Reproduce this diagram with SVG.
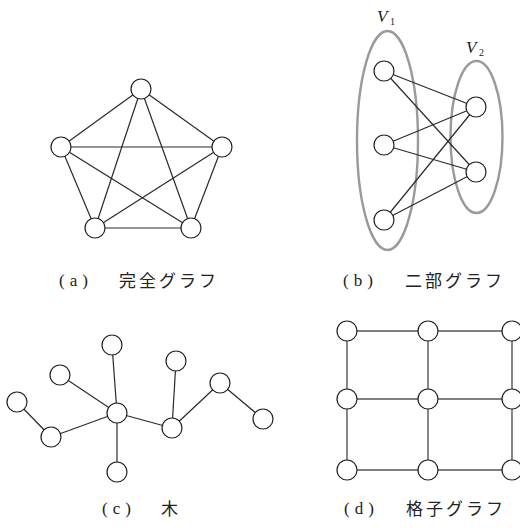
<svg xmlns="http://www.w3.org/2000/svg" width="520" height="528" viewBox="0 0 520 528">
<style>
.e{stroke:#2a2a2a;stroke-width:1.2;fill:none}
.g{stroke:#555;stroke-width:1.4;fill:none}
.set{fill:none;stroke:#9a9a9a;stroke-width:2.4}
.lbl{font-family:"Liberation Serif",serif;font-size:17px;fill:#222;letter-spacing:5px}
.jp{font-family:"Noto Sans CJK JP",sans-serif;font-size:17px;fill:#222;letter-spacing:3px;font-weight:400}
.v{font-family:"Liberation Serif",serif;font-style:italic;font-size:17px;fill:#222}
.sub{font-family:"Liberation Serif",serif;font-size:10px;fill:#222}
</style>
<defs><circle id="nd" r="10" fill="#fff" stroke="#222" stroke-width="1.2"/></defs>

<!-- (a) complete graph -->
<g id="edges-a">
<line class="e" x1="141" y1="89" x2="61" y2="147"/>
<line class="e" x1="141" y1="89" x2="222" y2="147"/>
<line class="e" x1="141" y1="89" x2="95" y2="228"/>
<line class="e" x1="141" y1="89" x2="191" y2="228"/>
<line class="e" x1="61" y1="147" x2="222" y2="147"/>
<line class="e" x1="61" y1="147" x2="95" y2="228"/>
<line class="e" x1="61" y1="147" x2="191" y2="228"/>
<line class="e" x1="222" y1="147" x2="95" y2="228"/>
<line class="e" x1="222" y1="147" x2="191" y2="228"/>
<line class="e" x1="95" y1="228" x2="191" y2="228"/>
</g>
<g id="a1"><use href="#nd" x="141" y="89"/></g>
<g id="a2"><use href="#nd" x="61" y="147"/></g>
<g id="a3"><use href="#nd" x="222" y="147"/></g>
<g id="a4"><use href="#nd" x="95" y="228"/></g>
<g id="a5"><use href="#nd" x="191" y="228"/></g>

<!-- (b) bipartite -->
<g id="set-v1"><ellipse class="set" cx="387.5" cy="140.5" rx="30.5" ry="109.5"/>
<text class="v" x="377" y="22">V</text><text class="sub" x="390" y="25">1</text></g>
<g id="set-v2"><ellipse class="set" cx="476.5" cy="137" rx="26" ry="76"/>
<text class="v" x="466" y="53">V</text><text class="sub" x="479" y="56">2</text></g>
<g id="edges-b">
<line class="e" x1="384" y1="71" x2="476" y2="107"/>
<line class="e" x1="384" y1="71" x2="476" y2="172"/>
<line class="e" x1="384" y1="145" x2="476" y2="107"/>
<line class="e" x1="384" y1="145" x2="476" y2="172"/>
<line class="e" x1="384" y1="220" x2="476" y2="107"/>
<line class="e" x1="384" y1="220" x2="476" y2="172"/>
</g>
<g id="b1"><use href="#nd" x="384" y="71"/></g>
<g id="b2"><use href="#nd" x="384" y="145"/></g>
<g id="b3"><use href="#nd" x="384" y="220"/></g>
<g id="b4"><use href="#nd" x="476" y="107"/></g>
<g id="b5"><use href="#nd" x="476" y="172"/></g>

<!-- (c) tree -->
<g id="edges-c">
<line class="e" x1="117" y1="413" x2="112" y2="345"/>
<line class="e" x1="117" y1="413" x2="60" y2="375"/>
<line class="e" x1="117" y1="413" x2="51" y2="437"/>
<line class="e" x1="51" y1="437" x2="17" y2="402"/>
<line class="e" x1="117" y1="413" x2="117" y2="472"/>
<line class="e" x1="117" y1="413" x2="172" y2="428"/>
<line class="e" x1="172" y1="428" x2="176" y2="361"/>
<line class="e" x1="172" y1="428" x2="220" y2="383"/>
<line class="e" x1="220" y1="383" x2="263" y2="419"/>
</g>
<g id="c1"><use href="#nd" x="117" y="413"/></g>
<g id="c2"><use href="#nd" x="112" y="345"/></g>
<g id="c3"><use href="#nd" x="60" y="375"/></g>
<g id="c4"><use href="#nd" x="17" y="402"/></g>
<g id="c5"><use href="#nd" x="51" y="437"/></g>
<g id="c6"><use href="#nd" x="117" y="472"/></g>
<g id="c7"><use href="#nd" x="172" y="428"/></g>
<g id="c8"><use href="#nd" x="176" y="361"/></g>
<g id="c9"><use href="#nd" x="220" y="383"/></g>
<g id="c10"><use href="#nd" x="263" y="419"/></g>

<!-- (d) grid -->
<g id="edges-d">
<line class="g" x1="347" y1="331" x2="512" y2="331"/>
<line class="g" x1="347" y1="399" x2="512" y2="399"/>
<line class="g" x1="347" y1="470" x2="512" y2="470"/>
<line class="g" x1="347" y1="331" x2="347" y2="470"/>
<line class="g" x1="428" y1="331" x2="428" y2="470"/>
<line class="g" x1="512" y1="331" x2="512" y2="470"/>
</g>
<g id="d1"><use href="#nd" x="347" y="331"/></g>
<g id="d2"><use href="#nd" x="428" y="331"/></g>
<g id="d3"><use href="#nd" x="512" y="331"/></g>
<g id="d4"><use href="#nd" x="347" y="399"/></g>
<g id="d5"><use href="#nd" x="428" y="399"/></g>
<g id="d6"><use href="#nd" x="512" y="399"/></g>
<g id="d7"><use href="#nd" x="347" y="470"/></g>
<g id="d8"><use href="#nd" x="428" y="470"/></g>
<g id="d9"><use href="#nd" x="512" y="470"/></g>

<!-- captions -->
<g id="cap-a"><text class="lbl" x="59" y="286">(a)</text><text class="jp" x="119" y="287">完全グラフ</text></g>
<g id="cap-b"><text class="lbl" x="343" y="286">(b)</text><text class="jp" x="405" y="287">二部グラフ</text></g>
<g id="cap-c"><text class="lbl" x="102" y="514">(c)</text><text class="jp" x="161" y="515">木</text></g>
<g id="cap-d"><text class="lbl" x="344" y="514">(d)</text><text class="jp" x="406" y="515">格子グラフ</text></g>
</svg>
